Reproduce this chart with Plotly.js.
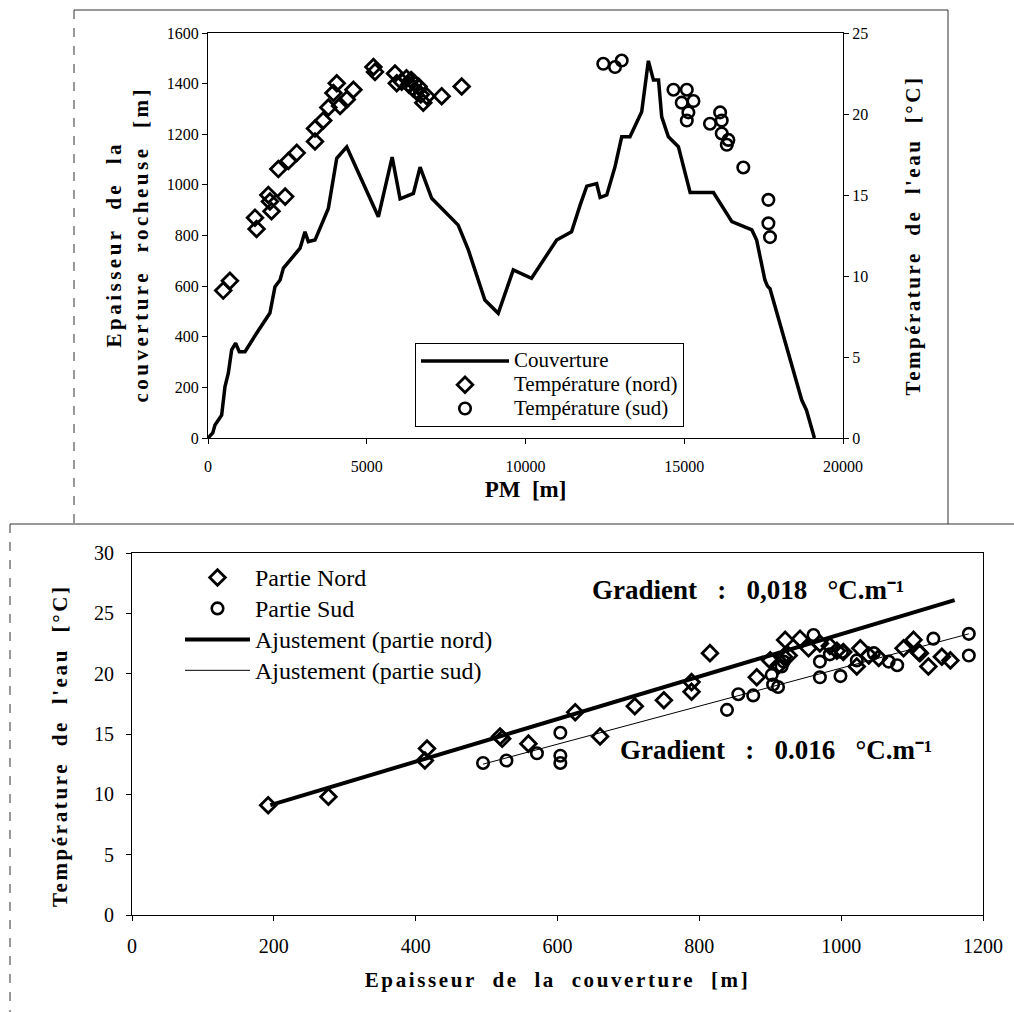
<!DOCTYPE html>
<html><head><meta charset="utf-8">
<script src="https://cdn.plot.ly/plotly-3.0.1.min.js"></script>
<style>html,body{margin:0;padding:0;background:#fff}#chart{width:1014px;height:1012px}</style>
</head><body><div id="chart"></div>
<script>
// ---- Top chart: thickness of rock cover along the tunnel (PM) ----
const pmCouverture = [0,150,220,300,430,535,640,745,870,985,1165,1530,1950,2110,2270,2375,2900,3055,3160,3370,3790,4055,4370,5365,5800,6050,6470,6680,7045,7880,8200,8720,9140,9615,10190,10980,11450,11720,11930,12240,12350,12560,12820,13030,13290,13660,13870,14030,14190,14290,14500,14815,15185,15920,16500,17130,17280,17540,17620,17700,18700,18850,19100];
const epaisseurCouverture = [0,20,51,65,90,203,256,348,375,341,341,414,494,598,624,671,750,815,776,782,907,1105,1150,874,1110,945,966,1070,947,841,743,545,493,664,631,782,815,920,995,1005,950,960,1072,1190,1190,1289,1490,1414,1414,1269,1190,1151,970,970,855,822,782,624,600,590,150,110,0];
const pmNord = [480,690,1480,1530,1900,1950,2000,2215,2430,2530,2795,3370,3370,3630,3790,3950,4055,4160,4370,4580,5210,5260,5890,5945,6100,6250,6330,6400,6450,6500,6560,6630,6700,6780,6890,7360,7990];
const tempNordPM = [9.1,9.7,13.6,12.9,15.0,14.6,14.0,16.6,14.9,17.1,17.6,18.3,19.1,19.6,20.4,21.3,21.9,20.5,20.9,21.5,22.9,22.6,22.5,21.9,22.0,22.2,21.8,22.1,21.6,21.9,21.4,21.7,21.2,20.7,21.1,21.1,21.7];
const pmSud = [12450,12820,13030,14660,15080,14920,15290,15130,15080,15810,16130,16180,16180,16390,16340,16860,17650,17650,17700];
const tempSudPM = [23.1,22.9,23.3,21.5,21.5,20.7,20.8,20.1,19.6,19.4,20.1,19.6,18.8,18.4,18.1,16.7,14.7,13.25,12.4];
const pmTicks = [0,5000,10000,15000,20000];
const epaisseurTicks = [0,200,400,600,800,1000,1200,1400,1600];
const tempTicksTop = [0,5,10,15,20,25];

// ---- Bottom chart: water temperature vs cover thickness ----
const couvNord = [192,277,413,416,519,522,559,625,660,709,750,789,789,815,881,900,912,919,921,926,942,954,970,984,994,1003,1022,1027,1039,1053,1088,1102,1109,1111,1123,1142,1154];
const tempNord = [9.1,9.8,12.8,13.8,14.8,14.6,14.2,16.8,14.8,17.3,17.8,19.3,18.5,21.7,19.7,21.1,20.7,21.4,22.8,21.5,22.9,22.1,22.5,22.3,21.9,21.8,20.6,22.1,21.5,21.3,22.1,22.8,21.8,21.7,20.6,21.4,21.1];
const couvSud = [495,528,571,604,604,604,839,855,876,902,904,911,916,919,961,970,970,984,999,1001,1022,1046,1067,1079,1130,1180,1180];
const tempSud = [12.6,12.8,13.4,15.1,13.2,12.6,17.0,18.3,18.2,19.9,19.1,18.9,20.6,21.0,23.2,21.0,19.7,21.6,19.8,21.8,21.1,21.7,21.0,20.7,22.9,23.3,21.5];
const fitNordX = [195,1160];
const fitNordY = [9.1,26.1];
const fitSudX = [495,1180];
const fitSudY = [12.5,23.3];
const couvTicks = [0,200,400,600,800,1000,1200];
const tempTicksBottom = [0,5,10,15,20,25,30];

const FONT = 'Liberation Serif';
const sp = (t, ls, fs) => '<span style="font-size:' + fs + 'px;letter-spacing:' + ls + 'px">' + t + '</span>';
const fsz = (t, fs) => '<span style="font-size:' + fs + 'px">' + t + '</span>';
const nb = '\u00a0';
const g = n => nb.repeat(n);

const diamond = {symbol:'diamond-open', size:12, color:'#000', line:{width:2.8, color:'#000'}};
const circle = {symbol:'circle-open', size:11.5, color:'#000', line:{width:2.6, color:'#000'}};

const traces = [
  {x:pmCouverture, y:epaisseurCouverture, type:'scatter', mode:'lines', name:fsz('Couverture', 21),
   line:{color:'#000', width:3.5}, xaxis:'x', yaxis:'y', legend:'legend'},
  {x:pmNord, y:tempNordPM, type:'scatter', mode:'markers', name:fsz('Température (nord)', 21),
   marker:diamond, xaxis:'x', yaxis:'y2', legend:'legend'},
  {x:pmSud, y:tempSudPM, type:'scatter', mode:'markers', name:fsz('Température (sud)', 21),
   marker:circle, xaxis:'x', yaxis:'y2', legend:'legend'},
  {x:couvNord, y:tempNord, type:'scatter', mode:'markers', name:fsz('Partie Nord', 24),
   marker:diamond, xaxis:'x2', yaxis:'y3', legend:'legend2'},
  {x:couvSud, y:tempSud, type:'scatter', mode:'markers', name:fsz('Partie Sud', 24),
   marker:circle, xaxis:'x2', yaxis:'y3', legend:'legend2'},
  {x:fitNordX, y:fitNordY, type:'scatter', mode:'lines', name:fsz('Ajustement (partie nord)', 24),
   line:{color:'#000', width:4}, xaxis:'x2', yaxis:'y3', legend:'legend2'},
  {x:fitSudX, y:fitSudY, type:'scatter', mode:'lines', name:fsz('Ajustement (partie sud)', 24),
   line:{color:'#000', width:1}, xaxis:'x2', yaxis:'y3', legend:'legend2'}
];

const axBase = {showgrid:false, zeroline:false, showline:true, linecolor:'#000', linewidth:1,
  ticks:'outside', ticklen:5, tickwidth:1, tickcolor:'#000', color:'#000'};

const W = 1014, H = 1012;
const px = v => v / W, py = v => 1 - v / H;
const tempTitle = 'Température' + g(2) + 'de' + g(2) + 'l\'eau' + g(2) + '[°C]';

const layout = {
  width:W, height:H, margin:{l:0, r:0, t:0, b:0},
  paper_bgcolor:'#fff', plot_bgcolor:'rgba(0,0,0,0)',
  font:{family:FONT, color:'#000'},
  showlegend:true,
  xaxis:Object.assign({}, axBase, {domain:[px(208), px(843)], anchor:'y', range:[0,20000],
    tickvals:pmTicks, ticktext:pmTicks.map(String), mirror:true, tickfont:{size:16, family:FONT},
    ticklabelstandoff:9,
    title:{text:'<b>PM' + g(2) + '[m]</b>', font:{size:23, family:FONT}, standoff:6}}),
  yaxis:Object.assign({}, axBase, {domain:[py(438), py(33)], anchor:'x', range:[0,1600],
    tickvals:epaisseurTicks, ticktext:epaisseurTicks.map(String), tickfont:{size:16, family:FONT},
    title:{text:'<b>' + sp('Epaisseur' + g(2) + 'de' + g(2) + 'la' + g(2), 3.5, 21) + '<br>' +
      sp('couverture' + g(2) + 'rocheuse' + g(2) + '[m]' + g(2), 3.5, 21) + '</b>', font:{size:21, family:FONT}, standoff:12}}),
  yaxis2:Object.assign({}, axBase, {overlaying:'y', side:'right', anchor:'x', range:[0,25],
    tickvals:tempTicksTop, ticktext:tempTicksTop.map(String), tickfont:{size:16, family:FONT},
    title:{text:'<b>' + sp(tempTitle, 2.5, 21) + '</b>', font:{size:21, family:FONT}, standoff:38}}),
  xaxis2:Object.assign({}, axBase, {domain:[px(132), px(983)], anchor:'y3', range:[0,1200],
    tickvals:couvTicks, ticktext:couvTicks.map(String), mirror:true, tickfont:{size:20, family:FONT},
    ticklabelstandoff:8,
    title:{text:'<b>' + sp('Epaisseur' + g(2) + 'de' + g(2) + 'la' + g(2) + 'couverture' + g(2) + '[m]', 2.6, 21) + '</b>',
      font:{size:21, family:FONT}, standoff:16}}),
  yaxis3:Object.assign({}, axBase, {domain:[py(915), py(553)], anchor:'x2', range:[0,30],
    tickvals:tempTicksBottom, ticktext:tempTicksBottom.map(String), mirror:true, tickfont:{size:20, family:FONT},
    ticklabelstandoff:8,
    title:{text:'<b>' + sp(tempTitle + g(3), 2.6, 21) + '</b>', font:{size:21, family:FONT}, standoff:20}}),
  legend:{x:px(415), y:py(343), xanchor:'left', yanchor:'top', bgcolor:'#fff',
    bordercolor:'#000', borderwidth:1, font:{size:16, family:FONT, color:'#000'}, itemwidth:88,
    tracegroupgap:0},
  legend2:{x:px(180), y:py(557), xanchor:'left', yanchor:'top', bgcolor:'rgba(0,0,0,0)',
    borderwidth:0, font:{size:21.5, family:FONT, color:'#000'}, itemwidth:65, tracegroupgap:0},
  annotations:[
    {xref:'paper', yref:'paper', x:px(748), y:py(590), xanchor:'center', yanchor:'middle', showarrow:false,
     text:'<b>Gradient' + g(3) + ':' + g(3) + '0,018' + g(3) + '°C.m\u207B\u00B9</b>', font:{size:27, family:FONT}},
    {xref:'paper', yref:'paper', x:px(776), y:py(750), xanchor:'center', yanchor:'middle', showarrow:false,
     text:'<b>Gradient' + g(3) + ':' + g(3) + '0.016' + g(3) + '°C.m\u207B\u00B9</b>', font:{size:27, family:FONT}}
  ],
  shapes:[
    {type:'line', xref:'paper', yref:'paper', x0:px(74), x1:px(948), y0:py(10), y1:py(10), line:{color:'#333', width:1}},
    {type:'line', xref:'paper', yref:'paper', x0:px(74), x1:px(74), y0:py(10), y1:py(524), line:{color:'#333', width:1, dash:'dash'}},
    {type:'line', xref:'paper', yref:'paper', x0:px(948), x1:px(948), y0:py(10), y1:py(524), line:{color:'#333', width:1}},
    {type:'line', xref:'paper', yref:'paper', x0:px(10), x1:1, y0:py(524), y1:py(524), line:{color:'#333', width:1}},
    {type:'line', xref:'paper', yref:'paper', x0:px(10), x1:px(10), y0:py(524), y1:0, line:{color:'#333', width:1, dash:'dash'}}
  ]
};

Plotly.newPlot('chart', traces, layout, {displayModeBar:false, staticPlot:true});
</script>
</body></html>
